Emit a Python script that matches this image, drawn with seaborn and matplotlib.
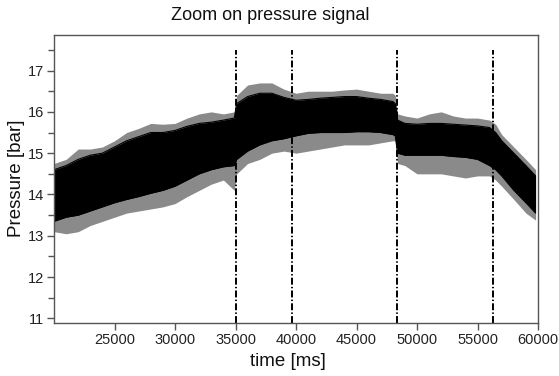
import matplotlib
matplotlib.use("Agg")
import matplotlib.pyplot as plt
import seaborn as sns
import numpy as np
import pandas as pd

# time samples (ms) where the signal envelope was read
time_ms = [20000, 21000, 22000, 23000, 24000, 25000, 26000, 27000, 28000, 29000,
           30000, 31000, 32000, 33000, 34000, 34900, 35100, 36000, 37000, 38000,
           39000, 40000, 41000, 42000, 43000, 44000, 45000, 46000, 47000, 48000,
           48200, 48400, 49000, 50000, 51000, 52000, 53000, 54000, 55000, 56000,
           56500, 57000, 58000, 59000, 59800]

# dense core of the pressure signal (bar)
core_upper = [14.60, 14.70, 14.85, 14.95, 15.00, 15.15, 15.30, 15.40, 15.50, 15.50,
              15.55, 15.65, 15.72, 15.75, 15.80, 15.85, 16.20, 16.37, 16.45, 16.45,
              16.35, 16.28, 16.30, 16.33, 16.35, 16.37, 16.37, 16.33, 16.30, 16.25,
              16.20, 15.80, 15.72, 15.70, 15.72, 15.72, 15.70, 15.68, 15.66, 15.62,
              15.50, 15.30, 15.00, 14.70, 14.45]
core_lower = [13.35, 13.45, 13.50, 13.60, 13.70, 13.80, 13.88, 13.95, 14.03, 14.10,
              14.20, 14.35, 14.50, 14.60, 14.67, 14.70, 14.85, 15.05, 15.20, 15.30,
              15.35, 15.42, 15.48, 15.50, 15.50, 15.50, 15.52, 15.52, 15.50, 15.45,
              15.42, 15.00, 14.95, 14.95, 14.95, 14.95, 14.92, 14.90, 14.85, 14.70,
              14.60, 14.45, 14.10, 13.80, 13.55]

# spike tips of the signal (bar)
spike_upper = [14.75, 14.85, 15.10, 15.10, 15.15, 15.30, 15.50, 15.60, 15.72, 15.70,
               15.72, 15.85, 15.95, 16.00, 15.95, 16.00, 16.40, 16.65, 16.70, 16.70,
               16.55, 16.45, 16.50, 16.50, 16.50, 16.53, 16.55, 16.50, 16.45, 16.45,
               16.40, 15.95, 15.90, 15.85, 15.95, 16.00, 15.90, 15.85, 15.85, 15.80,
               15.70, 15.45, 15.15, 14.85, 14.60]
spike_lower = [13.10, 13.05, 13.10, 13.25, 13.35, 13.45, 13.55, 13.60, 13.65, 13.70,
               13.78, 13.95, 14.10, 14.25, 14.35, 14.10, 14.50, 14.75, 14.85, 15.00,
               15.05, 15.00, 15.05, 15.10, 15.15, 15.20, 15.20, 15.20, 15.25, 15.30,
               15.30, 14.75, 14.70, 14.50, 14.50, 14.50, 14.45, 14.40, 14.45, 14.45,
               14.35, 14.20, 13.88, 13.55, 13.38]

# event markers (ms)
events_ms = [35000, 39700, 48350, 56300]
event_top = 17.5

x_ticks = [25000, 30000, 35000, 40000, 45000, 50000, 55000, 60000]
y_ticks = [11, 12, 13, 14, 15, 16, 17]

sns.set_theme(style="ticks")
plt.rcParams["font.family"] = ["Liberation Sans", "DejaVu Sans"]
plt.rcParams["lines.scale_dashes"] = False

df = pd.DataFrame({"time": time_ms, "cu": core_upper, "cl": core_lower,
                   "su": spike_upper, "sl": spike_lower})

fig = plt.figure(figsize=(5.59, 3.76), dpi=100)
ax = fig.add_axes([54/559, 1-323/376, (538-54)/559, (323-35)/376])

ax.fill_between(df["time"], df["sl"], df["su"], color="#8a8a8a", lw=0)
ax.fill_between(df["time"], df["cl"], df["cu"], color="black", lw=0)
sns.lineplot(data=df, x="time", y="cu", color="black", lw=0.8, ax=ax)
sns.lineplot(data=df, x="time", y="cl", color="black", lw=0.8, ax=ax)

ylim = (10.89, 17.86)
ax.vlines(events_ms, ylim[0], event_top, colors="black", lw=1.4,
          linestyles=[(0, (5, 1.6, 1, 1.6))])

ax.set_xlim(20000, 60000)
ax.set_ylim(*ylim)
ax.set_xticks(x_ticks)
ax.set_yticks(y_ticks)
ax.set_yticks(np.arange(11.5, 17.6, 1.0), minor=True)
ax.set_xlabel("")
ax.set_ylabel("")
ax.tick_params(axis="both", labelsize=10.5, color="#555555", length=5, width=1,
               pad=2, labelcolor="#222222")
ax.tick_params(axis="y", which="minor", length=4.5, width=1, color="#555555")
for s in ax.spines.values():
    s.set_color("#555555")
    s.set_linewidth(1)

fig.text(270/559, 1-15/376, "Zoom on pressure signal", ha="center", va="center",
         fontsize=13, color="#111111")
fig.text(288/559, 1-361/376, "time [ms]", ha="center", va="center",
         fontsize=13.5, color="#111111")
fig.text(17/559, 1-178/376, "Pressure [bar]", ha="center", va="center",
         rotation=90, fontsize=13.5, color="#111111")

fig.savefig("out.png", dpi=100)
